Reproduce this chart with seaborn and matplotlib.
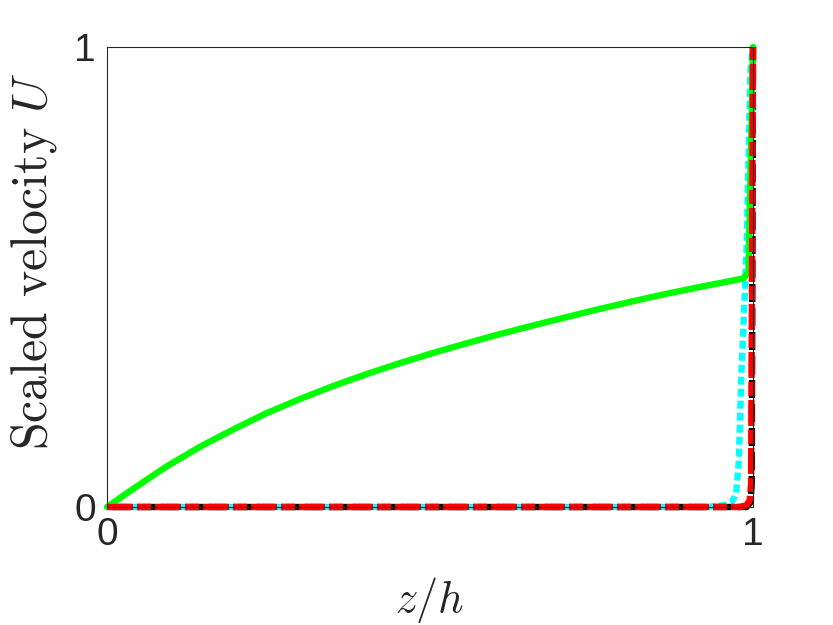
import numpy as np
import pandas as pd
import matplotlib
matplotlib.use("Agg")
import matplotlib.pyplot as plt
import seaborn as sns

# values
z_green = [0.0, 0.041, 0.092, 0.144, 0.196, 0.247, 0.299, 0.350, 0.402, 0.454, 0.505,
           0.552, 0.603, 0.655, 0.706, 0.758, 0.810, 0.861, 0.913, 0.964, 0.985, 0.993, 1.0]
u_green = [0.0, 0.040, 0.088, 0.131, 0.169, 0.204, 0.235, 0.263, 0.289, 0.313, 0.335,
           0.354, 0.374, 0.393, 0.411, 0.429, 0.446, 0.462, 0.477, 0.491, 0.497, 0.510, 1.0]

z_cyan = [0.0, 0.93, 0.955, 0.968, 0.974, 0.978, 0.982, 0.990, 0.994, 0.996, 1.0]
u_cyan = [0.0, 0.0, 0.004, 0.012, 0.03, 0.10, 0.29, 0.56, 0.82, 0.95, 1.0]

z_black = [0.0, 0.99, 0.996, 0.998, 1.0]
u_black = [0.0, 0.0, 0.01, 0.05, 1.0]

z_red = [0.0, 0.98, 0.99, 0.995, 0.997, 1.0]
u_red = [0.0, 0.0, 0.004, 0.015, 0.05, 1.0]

sns.set_style("white")
plt.rcParams["mathtext.fontset"] = "cm"
plt.rcParams["lines.scale_dashes"] = False

fig = plt.figure(figsize=(8.33, 6.25), dpi=100)
ax = fig.add_axes([0.1285, 0.1888, 0.7755, 0.736])

lw = 4.6
sns.lineplot(x=z_cyan, y=u_cyan, ax=ax, color="#00ffff", lw=lw, sort=False)
ax.lines[-1].set_linestyle((0, (5.76, 2.88)))
sns.lineplot(x=z_black, y=u_black, ax=ax, color="black", lw=lw, sort=False)
ax.lines[-1].set_linestyle((12.96, (12.96, 4.32)))
sns.lineplot(x=z_green, y=u_green, ax=ax, color="#00ff00", lw=lw, sort=False)
sns.lineplot(x=z_red, y=u_red, ax=ax, color="red", lw=lw, sort=False)
ax.lines[-1].set_linestyle((0, (18.72, 2.88, 10.08, 2.88)))
for ln in ax.lines:
    ln.set_dash_capstyle("butt")
    ln.set_solid_joinstyle("round")
    ln.set_dash_joinstyle("round")
    ln.set_clip_on(False)

ax.set_xlim(0, 1)
ax.set_ylim(0, 1)
ax.set_xticks([0, 1])
ax.set_yticks([0, 1])
ax.set_xticklabels(["0", "1"])
ax.set_yticklabels(["0", "1"])
ax.tick_params(axis="both", labelsize=28, labelcolor="#262626", length=0)
ax.tick_params(axis="x", pad=7)
ax.tick_params(axis="y", pad=8)
for t in ax.get_xticklabels() + ax.get_yticklabels():
    t.set_fontfamily("Liberation Sans")
for s in ax.spines.values():
    s.set_linewidth(0.8)
    s.set_color("#262626")

ax.set_xlabel(r"$z/h$", fontsize=32, color="#262626")
ax.xaxis.set_label_coords(0.5, -0.147)
ax.set_ylabel(r"$\mathrm{Scaled\ velocity}\ U$", fontsize=36, color="#262626")
ax.yaxis.set_label_coords(-0.075, 0.535)

fig.savefig("out.png", dpi=100)
